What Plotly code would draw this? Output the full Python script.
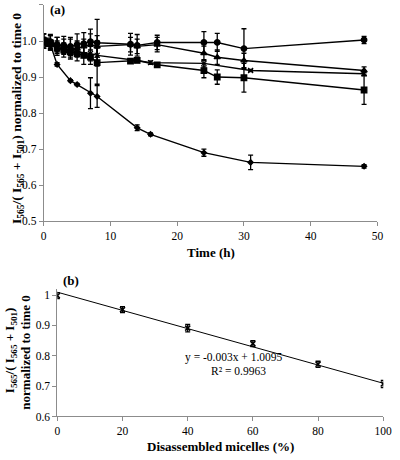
import plotly.graph_objects as go

# ---------- Panel (a) data ----------
t_circle = [0, 1, 2, 3, 4, 5, 6, 7, 8, 13, 14, 17, 24, 26, 30, 48]
v_circle = [1.0, 0.998, 0.99, 0.988, 0.985, 0.99, 0.993, 0.998, 0.995, 0.991, 0.988, 0.996, 0.996, 0.996, 0.979, 1.003]
e_circle = [0.02, 0.02, 0.02, 0.025, 0.025, 0.03, 0.03, 0.035, 0.065, 0.03, 0.03, 0.02, 0.03, 0.025, 0.055, 0.01]

t_tri = [0, 1, 2, 3, 4, 5, 6, 7, 8, 13, 14, 17, 24, 26, 30, 48]
v_tri = [1.0, 0.995, 0.99, 0.985, 0.98, 0.98, 0.985, 0.99, 0.985, 0.99, 0.985, 0.99, 0.966, 0.955, 0.946, 0.918]
e_tri = [0.02, 0.02, 0.02, 0.02, 0.025, 0.02, 0.02, 0.03, 0.03, 0.02, 0.02, 0.02, 0.02, 0.02, 0.02, 0.01]

t_ast = [0, 0.5, 1, 2, 4, 5, 7, 8, 14, 16, 24, 31, 48]
v_ast = [1.0, 0.995, 0.99, 0.98, 0.975, 0.97, 0.965, 0.96, 0.946, 0.94, 0.938, 0.918, 0.909]
e_ast = [0.01, 0.01, 0.01, 0.015, 0.015, 0.015, 0.02, 0.02, 0.005, 0.005, 0.01, 0.003, 0.005]

t_sq = [0, 1, 2, 3, 4, 5, 6, 7, 8, 13, 14, 17, 24, 26, 30, 48]
v_sq = [1.0, 0.995, 0.98, 0.975, 0.97, 0.965, 0.96, 0.955, 0.94, 0.944, 0.946, 0.934, 0.918, 0.90, 0.898, 0.864]
e_sq = [0.02, 0.02, 0.02, 0.02, 0.02, 0.02, 0.025, 0.02, 0.06, 0.005, 0.005, 0.005, 0.02, 0.02, 0.04, 0.04]

t_dia = [0, 0.5, 1, 2, 4, 5, 7, 8, 14, 16, 24, 31, 48]
v_dia = [1.0, 0.998, 0.99, 0.935, 0.89, 0.879, 0.855, 0.846, 0.759, 0.741, 0.69, 0.663, 0.652]
e_dia = [0.01, 0.01, 0.01, 0.005, 0.003, 0.003, 0.043, 0.03, 0.008, 0.004, 0.01, 0.02, 0.005]

# ---------- Panel (b) data ----------
micelles = [0, 20, 40, 60, 80, 100]
ratio_b = [0.998, 0.952, 0.891, 0.840, 0.772, 0.707]
err_b = [0.01, 0.01, 0.012, 0.01, 0.01, 0.012]
fit_slope = -0.003
fit_intercept = 1.0095
fit_x = [0, 100]

FONT = "Liberation Serif, Times New Roman, serif"
fig = go.Figure()

def err(vals):
    return dict(type="data", array=vals, visible=True, color="black", thickness=1.3, width=2.5)

series = [
    (t_circle, v_circle, e_circle, "circle", 5.5),
    (t_tri, v_tri, e_tri, "triangle-up", 5.5),
    (t_ast, v_ast, e_ast, "x-thin", 5),
    (t_sq, v_sq, e_sq, "square", 5.5),
    (t_dia, v_dia, e_dia, "diamond", 4),
]
for t, v, e, sym, sz in series:
    fig.add_trace(go.Scatter(
        x=t, y=v, mode="lines+markers", xaxis="x", yaxis="y",
        line=dict(color="black", width=1.4),
        marker=dict(symbol=sym, size=sz, color="black",
                    line=dict(color="black", width=1.3)),
        error_y=err(e), showlegend=False))

fig.add_trace(go.Scatter(
    x=fit_x, y=[fit_slope * x + fit_intercept for x in fit_x],
    mode="lines", xaxis="x2", yaxis="y2",
    line=dict(color="black", width=1), showlegend=False))
fig.add_trace(go.Scatter(
    x=micelles, y=ratio_b, mode="markers", xaxis="x2", yaxis="y2",
    marker=dict(symbol="x-thin", size=5, color="black", line=dict(color="black", width=1.5)),
    error_y=err(err_b), showlegend=False))

axis_common = dict(showgrid=False, zeroline=False, showline=True, linecolor="#8c8c8c",
                   linewidth=1, ticks="outside", ticklen=4, tickcolor="#8c8c8c",
                   tickfont=dict(family=FONT, size=11.5, color="black"))

fig.update_layout(
    width=400, height=460,
    margin=dict(l=0, r=0, t=0, b=0),
    paper_bgcolor="white", plot_bgcolor="white",
    font=dict(family=FONT, color="black"),
    xaxis=dict(domain=[0.105, 0.965], range=[0, 50], dtick=10, anchor="y", **axis_common),
    yaxis=dict(domain=[0.513, 0.989], range=[0.5, 1.1], dtick=0.1, tickformat=".1f",
               anchor="x", **axis_common),
    xaxis2=dict(domain=[0.14, 0.98], range=[0, 100], dtick=20, anchor="y2", **axis_common),
    yaxis2=dict(domain=[0.0826, 0.3635], range=[0.6, 1.02], tickvals=[0.6, 0.7, 0.8, 0.9, 1.0],
                ticktext=["0.6", "0.7", "0.8", "0.9", "1"], anchor="x2", **axis_common),
)

ann = [
    dict(text="<b>(a)</b>", x=56 / 400, y=1 - 10 / 460, size=13),
    dict(text="<b>(b)</b>", x=70 / 400, y=1 - 284 / 460, size=13),
    dict(text="<b>Time (h)</b>", x=214 / 400, y=1 - 256 / 460, size=13),
    dict(text="<b>Disassembled micelles (%)</b>", x=224 / 400, y=1 - 452 / 460, size=13),
    dict(text="y = -0.003x + 1.0095", x=238 / 400, y=1 - 362 / 460, size=11.5),
    dict(text="R² = 0.9963", x=243 / 400, y=1 - 376 / 460, size=11.5),
]
for a in ann:
    fig.add_annotation(text=a["text"], x=a["x"], y=a["y"], xref="paper", yref="paper",
                       showarrow=False, xanchor="center", yanchor="middle",
                       font=dict(family=FONT, size=a["size"], color="black"))

fig.add_annotation(text="<b>I<sub>565</sub>/( I<sub>565</sub> + I<sub>501</sub>) normalized to time 0</b>",
                   x=15 / 400, y=1 - 120 / 460, xref="paper", yref="paper", textangle=-90,
                   showarrow=False, xanchor="center", yanchor="middle",
                   font=dict(family=FONT, size=13.5, color="black"))
fig.add_annotation(text="<b>I<sub>565</sub>/( I<sub>565</sub> + I<sub>501</sub>)</b>",
                   x=8 / 400, y=1 - 355 / 460, xref="paper", yref="paper", textangle=-90,
                   showarrow=False, xanchor="center", yanchor="middle",
                   font=dict(family=FONT, size=13, color="black"))
fig.add_annotation(text="<b>normalized to time 0</b>",
                   x=23 / 400, y=1 - 357 / 460, xref="paper", yref="paper", textangle=-90,
                   showarrow=False, xanchor="center", yanchor="middle",
                   font=dict(family=FONT, size=13, color="black"))

fig.write_html("out.html", config={"displayModeBar": False},
               post_script="document.body.style.margin='0';document.body.style.overflow='hidden';")
